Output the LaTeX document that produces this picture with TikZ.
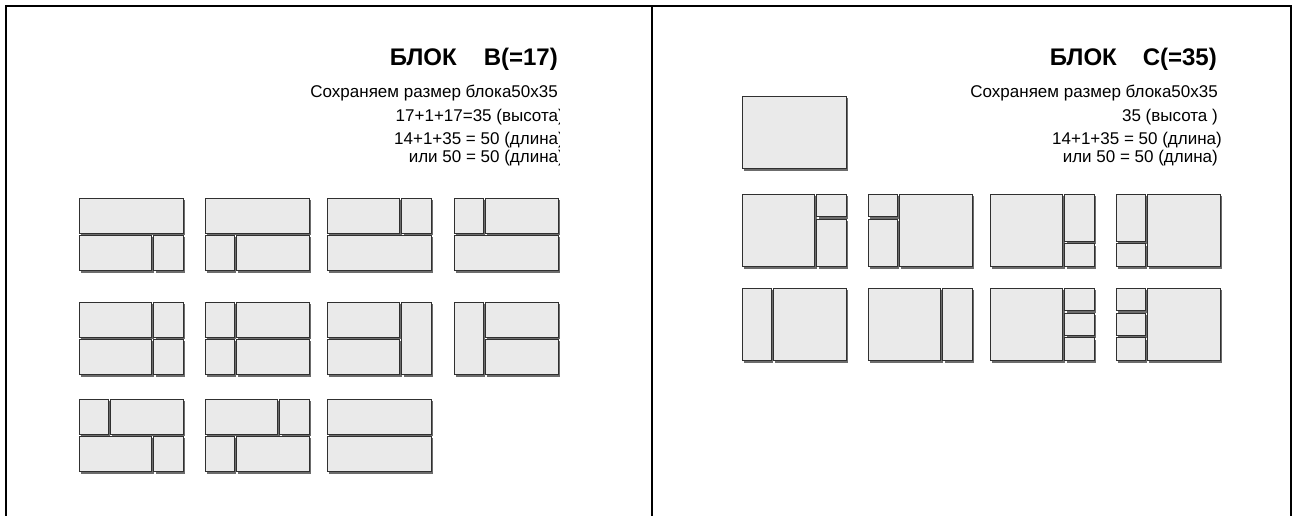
\documentclass[tikz,border=0pt]{standalone}
\usepackage{fontspec}
\setmainfont{Liberation Sans}
\definecolor{pfill}{HTML}{EAEAEA}
\definecolor{pline}{HTML}{303030}
\definecolor{pshadow}{HTML}{6C6C6C}
\tikzset{
  piece/.style={fill=pfill, draw=pline, line width=0.9pt},
  pshade/.style={fill=pshadow},
  frameline/.style={line width=2pt, draw=black},
  titletext/.style={anchor=base east, font=\bfseries\fontsize{24}{28}\selectfont, inner sep=0pt},
  bodytext/.style={anchor=base east, font=\fontsize{17}{20}\selectfont, inner sep=0pt},
}
\newcommand\pc[4]{%
  \fill[pshade, shift={(1.9pt,-1.9pt)}] (#1,#2) rectangle ++(#3,#4);
  \draw[piece] (#1,#2) rectangle ++(#3,#4);}
\newcommand\blk[3]{%
  \begin{scope}[shift={(#1pt,-#2pt)}, x=2.08pt, y=-2.08pt]#3\end{scope}}
\begin{document}
\begin{tikzpicture}[x=1pt, y=-1pt]
\useasboundingbox (0,0) rectangle (1298,516);
% frame
\draw[frameline] (6,516) -- (6,6) -- (1291,6) -- (1291,516);
\draw[frameline] (652,6) -- (652,516);

% ---------- left panel texts ----------
\node[titletext] (titleB) at (558,66) {БЛОК\hspace{27pt}B(=17)};
\begin{scope}
\clip (300,70) rectangle (559,175);
\node[bodytext] (lB1) at (558,98) {Сохраняем размер блока50x35};
\node[bodytext] (lB2) at (564,122) {17+1+17=35 (высота)};
\node[bodytext] (lB3) at (564,145) {14+1+35 = 50 (длина)};
\node[bodytext] (lB4) at (564,162) {или 50 = 50 (длина)};
\end{scope}

% ---------- right panel texts ----------
\node[titletext] (titleC) at (1217,66) {БЛОК\hspace{26pt}C(=35)};
\node[bodytext] (lC1) at (1218,98) {Сохраняем размер блока50x35};
\node[bodytext] (lC2) at (1218,122) {35 (высота )};
\node[bodytext] (lC3) at (1222,145) {14+1+35 = 50 (длина)};
\node[bodytext] (lC4) at (1218,162) {или 50 = 50 (длина)};

% ---------- left blocks ----------
\blk{79}{198}{\pc{0}{0}{50}{17}\pc{0}{18}{35}{17}\pc{36}{18}{14}{17}}
\blk{205}{198}{\pc{0}{0}{50}{17}\pc{0}{18}{14}{17}\pc{15}{18}{35}{17}}
\blk{327}{198}{\pc{0}{0}{35}{17}\pc{36}{0}{14}{17}\pc{0}{18}{50}{17}}
\blk{454}{198}{\pc{0}{0}{14}{17}\pc{15}{0}{35}{17}\pc{0}{18}{50}{17}}

\blk{79}{302}{\pc{0}{0}{35}{17}\pc{36}{0}{14}{17}\pc{0}{18}{35}{17}\pc{36}{18}{14}{17}}
\blk{205}{302}{\pc{0}{0}{14}{17}\pc{15}{0}{35}{17}\pc{0}{18}{14}{17}\pc{15}{18}{35}{17}}
\blk{327}{302}{\pc{0}{0}{35}{17}\pc{0}{18}{35}{17}\pc{36}{0}{14}{35}}
\blk{454}{302}{\pc{0}{0}{14}{35}\pc{15}{0}{35}{17}\pc{15}{18}{35}{17}}

\blk{79}{399}{\pc{0}{0}{14}{17}\pc{15}{0}{35}{17}\pc{0}{18}{35}{17}\pc{36}{18}{14}{17}}
\blk{205}{399}{\pc{0}{0}{35}{17}\pc{36}{0}{14}{17}\pc{0}{18}{14}{17}\pc{15}{18}{35}{17}}
\blk{327}{399}{\pc{0}{0}{50}{17}\pc{0}{18}{50}{17}}

% ---------- right blocks ----------
\blk{742}{96}{\pc{0}{0}{50}{35}}

\blk{742}{194}{\pc{0}{0}{35}{35}\pc{36}{0}{14}{11}\pc{36}{12}{14}{23}}
\blk{868}{194}{\pc{0}{0}{14}{11}\pc{0}{12}{14}{23}\pc{15}{0}{35}{35}}
\blk{990}{194}{\pc{0}{0}{35}{35}\pc{36}{0}{14}{23}\pc{36}{24}{14}{11}}
\blk{1116}{194}{\pc{0}{0}{14}{23}\pc{0}{24}{14}{11}\pc{15}{0}{35}{35}}

\blk{742}{288}{\pc{0}{0}{14}{35}\pc{15}{0}{35}{35}}
\blk{868}{288}{\pc{0}{0}{35}{35}\pc{36}{0}{14}{35}}
\blk{990}{288}{\pc{0}{0}{35}{35}\pc{36}{0}{14}{11}\pc{36}{12}{14}{11}\pc{36}{24}{14}{11}}
\blk{1116}{288}{\pc{0}{0}{14}{11}\pc{0}{12}{14}{11}\pc{0}{24}{14}{11}\pc{15}{0}{35}{35}}
\end{tikzpicture}
\end{document}
